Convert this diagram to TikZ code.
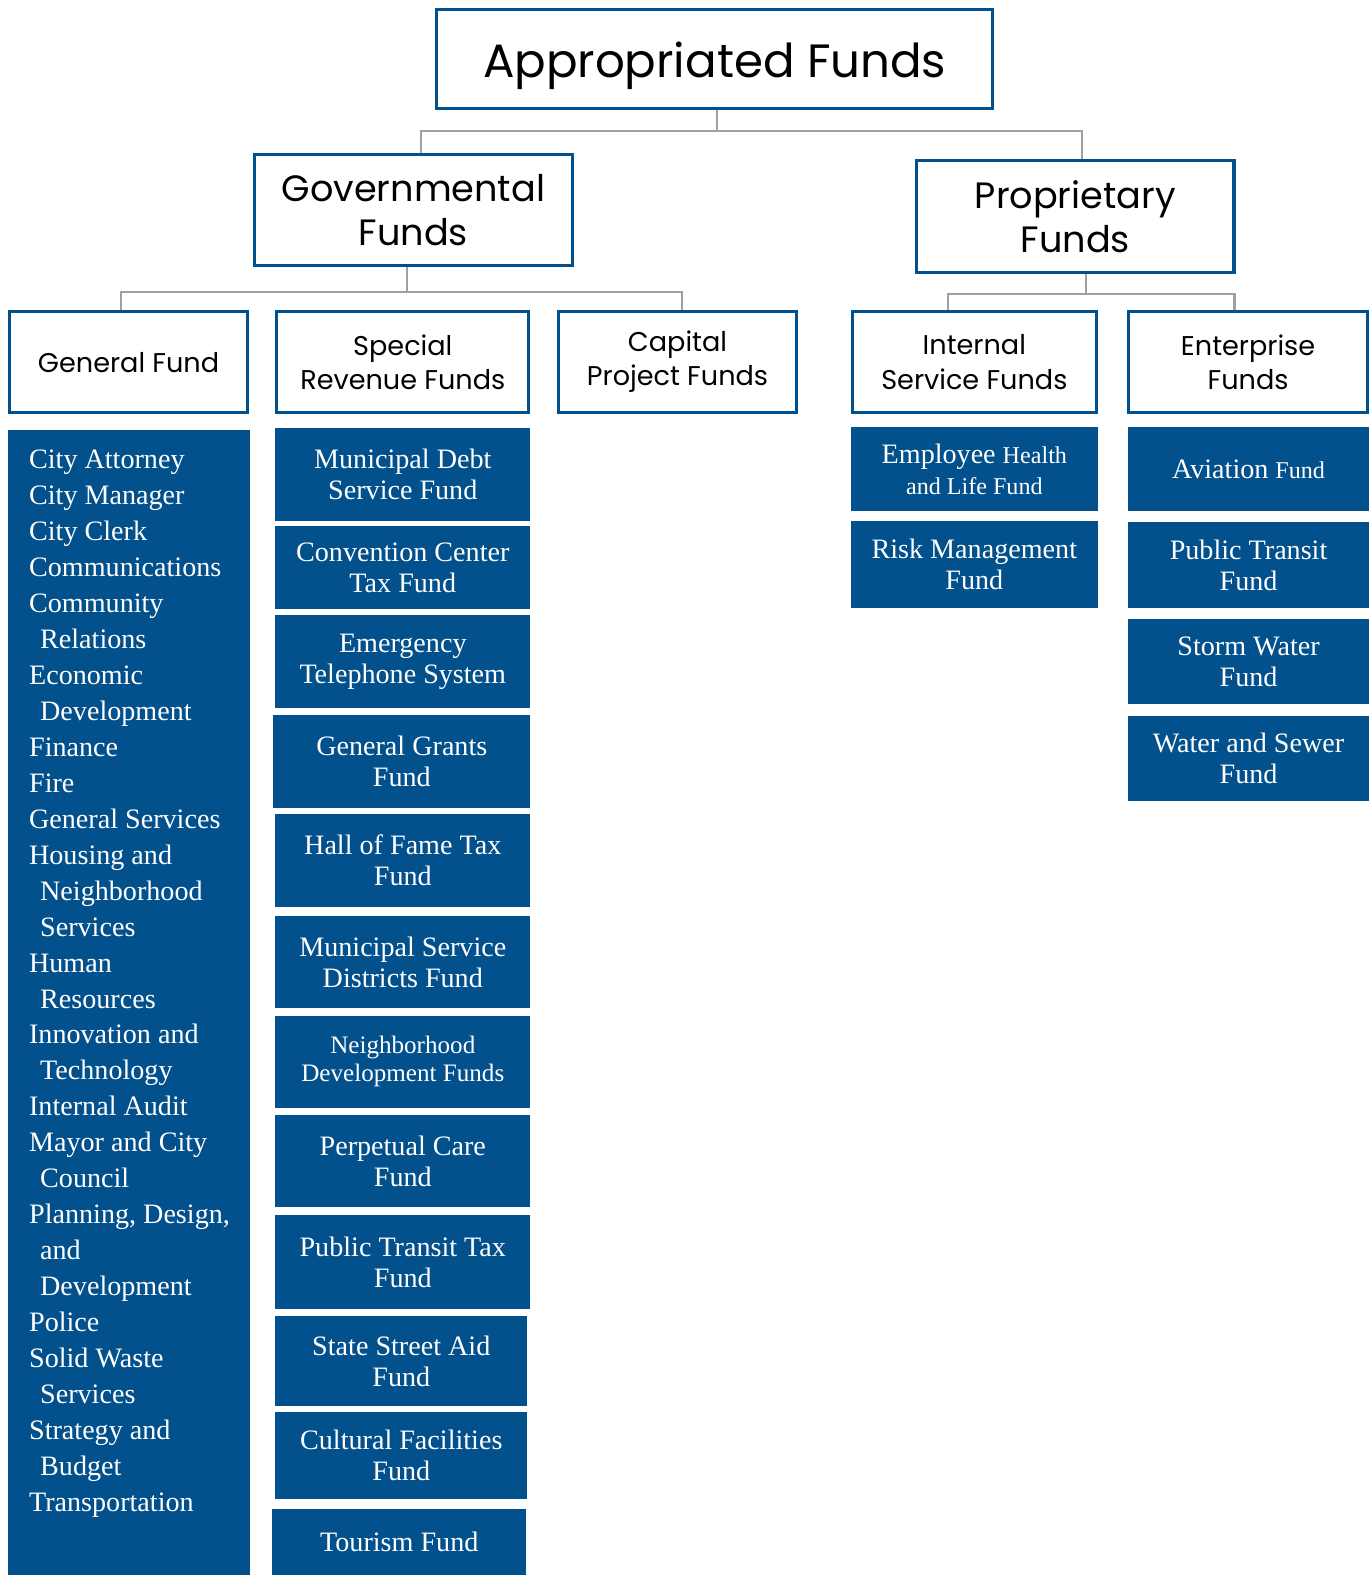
\documentclass[tikz,border=0pt]{standalone}
\usepackage{fontspec}
\setmainfont{Liberation Serif}
\newfontfamily\hdrfont{Poppins}
\usepackage{tikz}

\definecolor{fundblue}{RGB}{2,80,140}
\definecolor{linkgray}{RGB}{160,160,160}

\newcommand{\ind}{\hspace*{11pt}}
\newcommand{\smfund}[1]{{\fontsize{24}{31}\selectfont #1}}

\tikzset{
	hdr/.style={draw=fundblue, line width=3pt, fill=white, align=center, inner sep=0pt},
	fundbox/.style={fill=fundblue, text=white, align=center, inner sep=0pt,
		font=\fontsize{28}{31}\selectfont},
	link/.style={draw=linkgray, line width=2pt}
}

\begin{document}
\begin{tikzpicture}[x=1pt, y=-1pt]
		\useasboundingbox (0,0) rectangle (1364,1568);

		% headers
		\draw (711.5,59) node[hdr, minimum width=554pt, minimum height=99pt, text depth=0pt, font=\hdrfont\fontsize{46.5}{58}\selectfont] (app) {Appropriated Funds};
		\draw (411.5,209) node[hdr, minimum width=316pt, minimum height=111pt, font=\hdrfont\fontsize{36.5}{44}\selectfont] (gov) {Governmental\\Funds};
		\draw (1070.5,215.5) node[hdr, minimum width=316pt, minimum height=112pt, font=\hdrfont\fontsize{36.5}{44}\selectfont] (prop) {Proprietary\\Funds};

		\draw (128,360.5) node[hdr, minimum width=237pt, minimum height=100pt, font=\hdrfont\fontsize{27}{34}\selectfont] (genf) {General Fund};
		\draw (401,360.5) node[hdr, minimum width=251pt, minimum height=100pt, font=\hdrfont\fontsize{27}{34}\selectfont] (spec) {Special\\Revenue Funds};
		\draw (674.5,360.5) node[hdr, minimum width=236pt, minimum height=100pt, font=\hdrfont\fontsize{27}{34}\selectfont] (capf) {Capital\\Project Funds};
		\draw (970,360.5) node[hdr, minimum width=243pt, minimum height=100pt, font=\hdrfont\fontsize{27}{34}\selectfont] (intf) {Internal\\Service Funds};
		\draw (1242.5,360.5) node[hdr, minimum width=238pt, minimum height=100pt, font=\hdrfont\fontsize{27}{34}\selectfont] (entf) {Enterprise\\Funds};

		% connectors
		\coordinate (busA) at (0,130);
		\coordinate (busB) at (0,291);
		\coordinate (busC) at (0,293);
		\draw[link] ([xshift=2.5pt]app.south) -- ([xshift=2.5pt]app.south |- busA);
		\draw[link] ([xshift=7.5pt]gov.north) |- ([xshift=6.5pt]prop.north |- busA) -- ([xshift=6.5pt]prop.north);
		\draw[link] ([xshift=-6.5pt]gov.south) -- ([xshift=-6.5pt]gov.south |- busB);
		\draw[link] ([xshift=-8pt]genf.north) |- ([xshift=4.5pt]capf.north |- busB) -- ([xshift=4.5pt]capf.north);
		\draw[link] ([xshift=10.5pt]prop.south) -- ([xshift=10.5pt]prop.south |- busC);
		\draw[link] ([xshift=-26pt]intf.north) |- ([xshift=-13.5pt]entf.north |- busC) -- ([xshift=-13.5pt]entf.north);

		% general fund departments
		\draw (128.5,998) node[fundbox, minimum width=241pt, minimum height=1140pt] (genlist) {};
		\node[anchor=north west, text=white, align=left, inner sep=0pt, font=\fontsize{28}{35.8}\selectfont]
			(genitems) at ([xshift=21pt, yshift=-20pt]genlist.north west)
			{City Attorney\\City Manager\\City Clerk\\Communications\\Community\\\ind Relations\\Economic\\\ind Development\\Finance\\Fire\\General Services\\Housing and\\\ind Neighborhood\\\ind Services\\Human\\\ind Resources\\Innovation and\\\ind Technology\\Internal Audit\\Mayor and City\\\ind Council\\Planning, Design,\\\ind and\\\ind Development\\Police\\Solid Waste\\\ind Services\\Strategy and\\\ind Budget\\Transportation};

		% special revenue funds
		\draw (401,472.5) node[fundbox, minimum width=254pt, minimum height=93pt] (sr1) {Municipal Debt\\Service Fund};
		\draw (401,565) node[fundbox, minimum width=254pt, minimum height=82pt] (sr2) {Convention Center\\Tax Fund};
		\draw (401,658.5) node[fundbox, minimum width=254pt, minimum height=93pt] (sr3) {Emergency\\Telephone System};
		\draw (400,758) node[fundbox, minimum width=256pt, minimum height=92pt] (sr4) {General Grants\\Fund};
		\draw (401,856.5) node[fundbox, minimum width=254pt, minimum height=93pt] (sr5) {Hall of Fame Tax\\Fund};
		\draw (401,958) node[fundbox, minimum width=254pt, minimum height=92pt] (sr6) {Municipal Service\\Districts Fund};
		\draw (401,1057) node[fundbox, minimum width=254pt, minimum height=92pt, font=\fontsize{25}{28}\selectfont] (sr7) {Neighborhood\\Development Funds};
		\draw (401,1156) node[fundbox, minimum width=254pt, minimum height=92pt] (sr8) {Perpetual Care\\Fund};
		\draw (401,1256.5) node[fundbox, minimum width=254pt, minimum height=93pt] (sr9) {Public Transit Tax\\Fund};
		\draw (399.5,1355) node[fundbox, minimum width=251pt, minimum height=90pt] (sr10) {State Street Aid\\Fund};
		\draw (399.5,1449) node[fundbox, minimum width=251pt, minimum height=86pt] (sr11) {Cultural Facilities\\Fund};
		\draw (397.5,1535) node[fundbox, minimum width=253pt, minimum height=66pt] (sr12) {Tourism Fund};

		% internal service funds
		\draw (970,467) node[fundbox, minimum width=246pt, minimum height=84pt] (is1) {Employee \smfund{Health}\\\smfund{and Life Fund}};
		\draw (970,562) node[fundbox, minimum width=246pt, minimum height=86pt] (is2) {Risk Management\\Fund};

		% enterprise funds
		\draw (1243,467) node[fundbox, minimum width=240pt, minimum height=84pt] (ef1) {Aviation \smfund{Fund}};
		\draw (1243,562.5) node[fundbox, minimum width=240pt, minimum height=85pt] (ef2) {Public Transit\\Fund};
		\draw (1243,658.5) node[fundbox, minimum width=240pt, minimum height=85pt] (ef3) {Storm Water\\Fund};
		\draw (1243,755) node[fundbox, minimum width=240pt, minimum height=84pt] (ef4) {Water and Sewer\\Fund};
	\end{tikzpicture}
\end{document}
